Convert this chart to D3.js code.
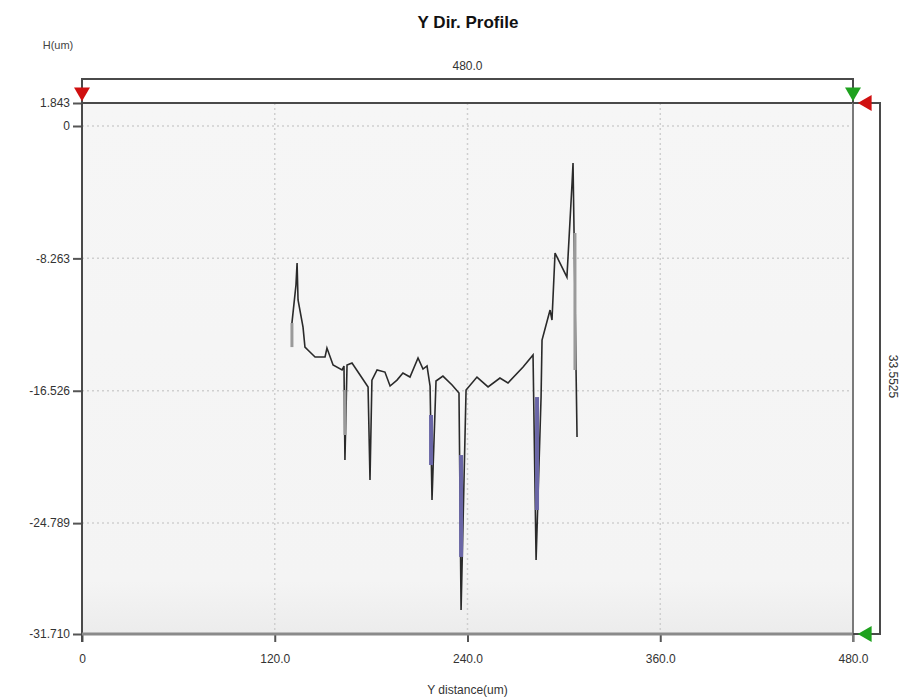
<!DOCTYPE html>
<html>
<head>
<meta charset="utf-8">
<script src="https://cdn.jsdelivr.net/npm/d3@7"></script>
<style>
  html, body { margin: 0; padding: 0; background: #fff; }
  svg { display: block; font-family: "Liberation Sans", Arial, sans-serif; }
</style>
</head>
<body>
<svg id="chart" width="902" height="700"></svg>
<script>
// ---- data ----
const title = "Y Dir. Profile";
const xLabel = "Y distance(um)";
const yLabel = "H(um)";
const rangeXLabel = "480.0";
const rangeYLabel = "33.5525";
const xTicks = [0, 120, 240, 360, 480];
const xTickLabels = ["0", "120.0", "240.0", "360.0", "480.0"];
const yTicks = [1.843, 0, -8.263, -16.526, -24.789, -31.71];
const yTickLabels = ["1.843", "0", "-8.263", "-16.526", "-24.789", "-31.710"];
const yGrid = [0, -8.263, -16.526, -24.789];
const xGrid = [120, 240, 360];

const profileX = [130.7, 130.7, 133.2, 133.9, 134.5, 137.6, 138.8, 141.9, 145.1, 151.3,
  152.5, 156.3, 161.9, 163.1, 163.7, 165.0, 168.1, 173.1, 178.1, 179.3,
  180.5, 183.7, 188.6, 191.8, 196.1, 199.8, 204.2, 209.2, 212.3, 214.8,
  216.7, 217.9, 220.4, 224.7, 230.4, 234.7, 236.0, 239.1, 245.9, 252.8,
  260.2, 265.2, 274.6, 280.8, 282.7, 285.8, 286.4, 291.4, 292.6, 294.5,
  301.9, 305.1, 305.7, 308.2];
const profileH = [-13.80, -12.30, -9.93, -8.55, -10.86, -12.55, -13.80, -14.11, -14.42, -14.42,
  -13.86, -14.92, -15.23, -14.98, -20.85, -14.92, -14.79, -15.54, -16.29, -22.10,
  -15.86, -15.23, -15.36, -16.23, -15.86, -15.42, -15.67, -14.48, -15.17, -14.98,
  -16.23, -23.35, -15.92, -15.61, -16.17, -16.67, -30.21, -16.48, -15.67, -16.29,
  -15.73, -16.04, -15.04, -14.29, -27.09, -16.92, -13.36, -11.49, -12.11, -7.93,
  -9.43, -3.56, -2.31, -19.41];

// emphasised stretches of the trace: [x, top H, bottom H]
const purpleX = [217.3, 236.0, 283.3];
const purpleTop = [-18.04, -20.54, -16.92];
const purpleBottom = [-21.16, -26.90, -23.97];
const grayX = [130.7, 163.7, 306.9];
const grayTop = [-12.30, -16.48, -6.68];
const grayBottom = [-13.80, -19.29, -15.23];

// ---- layout ----
const L = 82, R = 853, T = 103, B = 634;
const svg = d3.select("#chart");

const x = d3.scaleLinear().domain([0, 480]).range([L, R]);
const y = d3.scaleLinear().domain([-31.71, 0, 1.843]).range([B, 126, T]);

// plot background
const grad = svg.append("defs").append("linearGradient")
  .attr("id", "bg").attr("x1", 0).attr("y1", 0).attr("x2", 0).attr("y2", 1);
grad.append("stop").attr("offset", "0%").attr("stop-color", "#f6f6f6");
grad.append("stop").attr("offset", "90%").attr("stop-color", "#f4f4f4");
grad.append("stop").attr("offset", "100%").attr("stop-color", "#ececec");
svg.append("rect").attr("x", L).attr("y", T).attr("width", R - L).attr("height", B - T)
  .attr("fill", "url(#bg)");

// grid
svg.append("g").selectAll("line").data(yGrid).join("line")
  .attr("x1", L).attr("x2", R).attr("y1", d => y(d)).attr("y2", d => y(d))
  .attr("stroke", "#cfcfcf").attr("stroke-width", 1.5).attr("stroke-dasharray", "2,3");
svg.append("g").selectAll("line").data(xGrid).join("line")
  .attr("y1", T).attr("y2", B).attr("x1", d => x(d)).attr("x2", d => x(d))
  .attr("stroke", "#cfcfcf").attr("stroke-width", 1.5).attr("stroke-dasharray", "2,3");

// profile
const pts = profileX.map((v, i) => [v, profileH[i]]);
const line = d3.line().x(d => x(d[0])).y(d => y(d[1]));
svg.append("path").datum(pts).attr("d", line)
  .attr("fill", "none").attr("stroke", "#2a2a2a").attr("stroke-width", 1.6)
  .attr("stroke-linejoin", "miter");

svg.append("g").selectAll("line").data(grayX).join("line")
  .attr("x1", d => x(d)).attr("x2", d => x(d))
  .attr("y1", (d, i) => y(grayTop[i])).attr("y2", (d, i) => y(grayBottom[i]))
  .attr("stroke", "#9a9a9a").attr("stroke-width", 3);
svg.append("g").selectAll("line").data(purpleX).join("line")
  .attr("x1", d => x(d)).attr("x2", d => x(d))
  .attr("y1", (d, i) => y(purpleTop[i])).attr("y2", (d, i) => y(purpleBottom[i]))
  .attr("stroke", "#6a66a6").attr("stroke-width", 4);

// axes
const yAxis = d3.axisLeft(y).tickValues(yTicks)
  .tickFormat((d, i) => yTickLabels[i]).tickSize(9).tickPadding(3);
const gy = svg.append("g").attr("transform", `translate(${L},0)`).call(yAxis);
gy.select(".domain").remove();
gy.selectAll(".tick line").attr("stroke", "#555").attr("stroke-width", 2);
gy.selectAll(".tick text").attr("font-size", 12).attr("fill", "#333")
  .attr("font-family", "Liberation Sans, Arial, sans-serif");

const xAxis = d3.axisBottom(x).tickValues(xTicks)
  .tickFormat((d, i) => xTickLabels[i]).tickSize(8).tickPadding(12);
const gx = svg.append("g").attr("transform", `translate(0,${B})`).call(xAxis);
gx.select(".domain").remove();
gx.selectAll(".tick line").attr("stroke", "#555").attr("stroke-width", 2);
gx.selectAll(".tick text").attr("font-size", 12).attr("fill", "#333")
  .attr("font-family", "Liberation Sans, Arial, sans-serif");

// frame lines
const frame = svg.append("g").attr("fill", "none");
frame.append("line").attr("x1", L).attr("x2", L).attr("y1", 79).attr("y2", B + 8)
  .attr("stroke", "#4a4a4a").attr("stroke-width", 2);
frame.append("line").attr("x1", L).attr("x2", 880).attr("y1", T).attr("y2", T)
  .attr("stroke", "#4a4a4a").attr("stroke-width", 2);
frame.append("line").attr("x1", L).attr("x2", R).attr("y1", B).attr("y2", B)
  .attr("stroke", "#8a8a8a").attr("stroke-width", 3);
frame.append("line").attr("x1", R).attr("x2", R).attr("y1", T).attr("y2", B + 8)
  .attr("stroke", "#7a7a7a").attr("stroke-width", 2);
// top range bracket
frame.append("path").attr("d", `M${L},${T}V79H${R}V${T}`)
  .attr("stroke", "#4a4a4a").attr("stroke-width", 2);
// right range bracket
frame.append("path").attr("d", `M${R},${T}H880V${B}H${R}`)
  .attr("stroke", "#4a4a4a").attr("stroke-width", 2);

// markers
const tri = d3.symbol().type(d3.symbolTriangle).size(110);
const markers = [
  {px: L, py: 92, rot: 180, c: "#d01010"},
  {px: R, py: 92, rot: 180, c: "#1ea21e"},
  {px: 867, py: T, rot: -90, c: "#d01010"},
  {px: 867, py: B, rot: -90, c: "#1ea21e"}
];
svg.append("g").selectAll("path").data(markers).join("path")
  .attr("d", tri)
  .attr("transform", d => `translate(${d.px},${d.py}) rotate(${d.rot})`)
  .attr("fill", d => d.c);

// texts
svg.append("text").attr("x", 468).attr("y", 28).attr("text-anchor", "middle")
  .attr("font-size", 17).attr("font-weight", "bold").attr("fill", "#111").text(title);
svg.append("text").attr("x", 58).attr("y", 49).attr("text-anchor", "middle")
  .attr("font-size", 11).attr("fill", "#444").text(yLabel);
svg.append("text").attr("x", (L + R) / 2).attr("y", 70).attr("text-anchor", "middle")
  .attr("font-size", 12).attr("fill", "#333").text(rangeXLabel);
svg.append("text").attr("transform", `translate(889,${(T + B) / 2 + 8}) rotate(90)`)
  .attr("text-anchor", "middle").attr("font-size", 12).attr("fill", "#333").text(rangeYLabel);
svg.append("text").attr("x", (L + R) / 2).attr("y", 694).attr("text-anchor", "middle")
  .attr("font-size", 12).attr("fill", "#333").text(xLabel);
</script>
</body>
</html>
